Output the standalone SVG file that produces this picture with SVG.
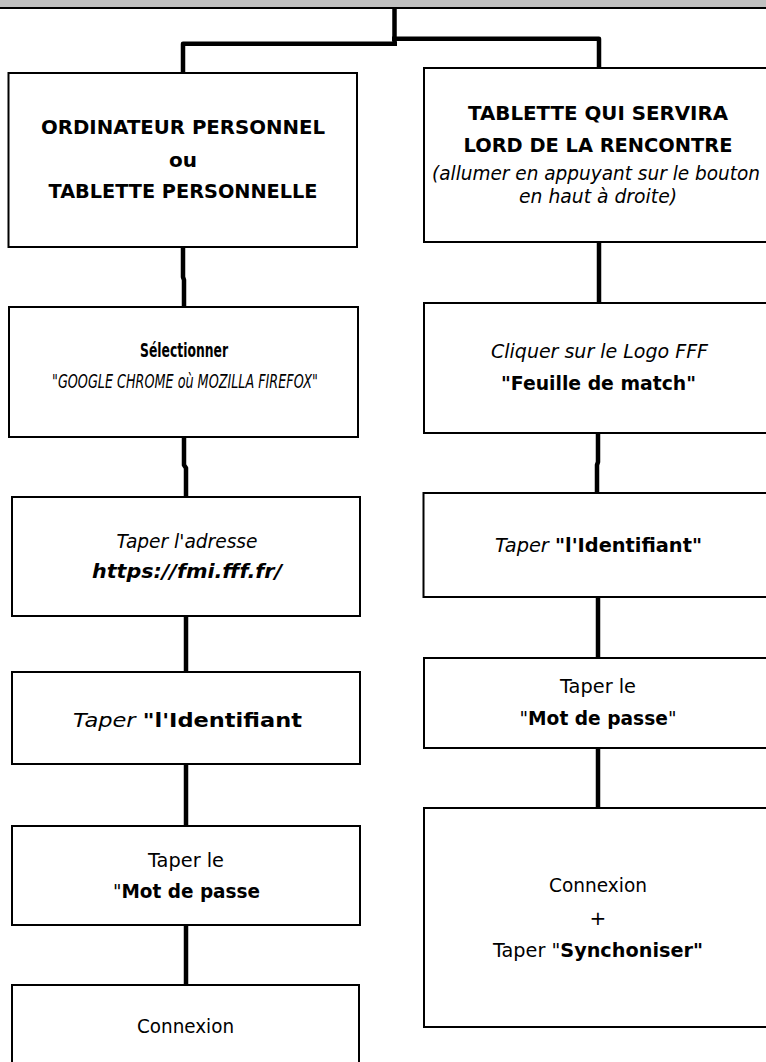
<svg xmlns="http://www.w3.org/2000/svg" width="766" height="1062" viewBox="0 0 766 1062">
<style>
.box{fill:#fff;stroke:#000;stroke-width:2}
.conn{fill:none;stroke:#000;stroke-width:4.5;stroke-linejoin:round}
text{font-family:"DejaVu Sans","Noto Sans",sans-serif;fill:#000;text-anchor:middle;font-size:20px}
.b{font-weight:bold}
.i{font-style:italic}
</style>
<rect x="0" y="0" width="766" height="8" fill="#c0c0c0"/>
<line x1="0" y1="8" x2="766" y2="8" stroke="#000" stroke-width="2"/>
<g id="connectors">
<path class="conn" d="M394.5 9 V44"/>
<path class="conn" d="M397 43.7 H183 V73"/>
<path class="conn" d="M392 38.7 H599 V68"/>
<path class="conn" d="M183 247 V277 L184 280 V307"/>
<path class="conn" d="M184 437 V465 L186 468 V497"/>
<path class="conn" d="M186 616 V672"/>
<path class="conn" d="M186 764 V826"/>
<path class="conn" d="M186 925 V985"/>
<path class="conn" d="M599 242 V303"/>
<path class="conn" d="M598 433 V462 L597 465 V493"/>
<path class="conn" d="M598 597 V658"/>
<path class="conn" d="M598 748 V808"/>
</g>
<g id="L1">
<rect class="box" x="8.5" y="73" width="348.5" height="174"/>
<text class="b" x="183" y="134" font-size="19.5" textLength="284" lengthAdjust="spacingAndGlyphs">ORDINATEUR PERSONNEL</text>
<text class="b" x="183" y="167" font-size="19.5">ou</text>
<text class="b" x="183" y="198" font-size="19.5" textLength="269" lengthAdjust="spacingAndGlyphs">TABLETTE PERSONNELLE</text>
</g>
<g id="L2">
<rect class="box" x="9" y="307" width="349" height="130"/>
<text class="b" x="184" y="357" font-size="12.5" textLength="88" lengthAdjust="spacingAndGlyphs">Sélectionner</text>
<text class="i" x="185" y="388" font-size="12.5" textLength="266" lengthAdjust="spacingAndGlyphs">"GOOGLE CHROME où MOZILLA FIREFOX"</text>
</g>
<g id="L3">
<rect class="box" x="12" y="497" width="348" height="119"/>
<text class="i" x="187" y="548" textLength="141" lengthAdjust="spacingAndGlyphs">Taper l'adresse</text>
<text class="b i" x="187" y="578" textLength="190" lengthAdjust="spacingAndGlyphs">https://fmi.fff.fr/</text>
</g>
<g id="L4">
<rect class="box" x="12" y="672" width="348" height="92"/>
<text x="187.5" y="727" font-size="22" textLength="229" lengthAdjust="spacingAndGlyphs"><tspan class="i">Taper</tspan> <tspan class="b">"l'Identifiant</tspan></text>
</g>
<g id="L5">
<rect class="box" x="12" y="826" width="348" height="99"/>
<text x="186" y="867" textLength="76" lengthAdjust="spacingAndGlyphs">Taper le</text>
<text x="186.5" y="898" textLength="147" lengthAdjust="spacingAndGlyphs">"<tspan class="b">Mot de passe</tspan></text>
</g>
<g id="L6">
<rect class="box" x="12" y="985" width="347" height="100"/>
<text x="185.5" y="1033" textLength="97" lengthAdjust="spacingAndGlyphs">Connexion</text>
</g>
<g id="R1">
<rect class="box" x="424" y="68" width="348" height="174"/>
<text class="b" x="598" y="120" font-size="19.5" textLength="260" lengthAdjust="spacingAndGlyphs">TABLETTE QUI SERVIRA</text>
<text class="b" x="598" y="152" font-size="19.5" textLength="269" lengthAdjust="spacingAndGlyphs">LORD DE LA RENCONTRE</text>
<text class="i" x="596" y="180" font-size="18" textLength="328" lengthAdjust="spacingAndGlyphs">(allumer en appuyant sur le bouton</text>
<text class="i" x="598" y="203" font-size="18" textLength="158" lengthAdjust="spacingAndGlyphs">en haut à droite)</text>
</g>
<g id="R2">
<rect class="box" x="424" y="303" width="348" height="130"/>
<text class="i" x="599.5" y="358" textLength="217" lengthAdjust="spacingAndGlyphs">Cliquer sur le Logo FFF</text>
<text class="b" x="598.5" y="390" textLength="195" lengthAdjust="spacingAndGlyphs">"Feuille de match"</text>
</g>
<g id="R3">
<rect class="box" x="423.5" y="493" width="348.5" height="104"/>
<text x="598.5" y="552" textLength="207" lengthAdjust="spacingAndGlyphs"><tspan class="i">Taper</tspan> <tspan class="b">"l'Identifiant"</tspan></text>
</g>
<g id="R4">
<rect class="box" x="424" y="658" width="348" height="90"/>
<text x="598" y="693" textLength="76" lengthAdjust="spacingAndGlyphs">Taper le</text>
<text x="598" y="725" textLength="157" lengthAdjust="spacingAndGlyphs">"<tspan class="b">Mot de passe</tspan>"</text>
</g>
<g id="R5">
<rect class="box" x="424" y="808" width="348" height="219"/>
<text x="598" y="892" textLength="98" lengthAdjust="spacingAndGlyphs">Connexion</text>
<text x="598" y="925">+</text>
<text x="598" y="957" textLength="210" lengthAdjust="spacingAndGlyphs">Taper "<tspan class="b">Synchoniser"</tspan></text>
</g>
</svg>
